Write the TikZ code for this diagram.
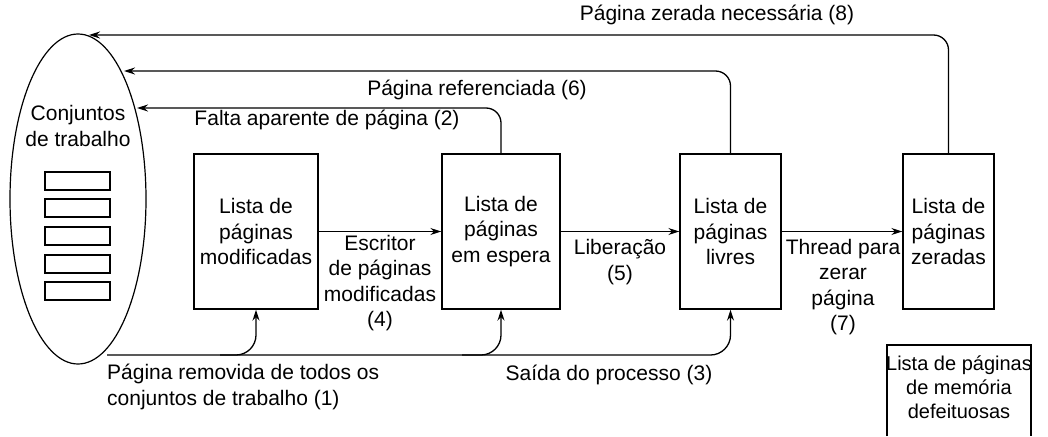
\documentclass[tikz,border=0pt]{standalone}
\usepackage{fontspec}
\setmainfont{Liberation Sans}
\usetikzlibrary{shapes.geometric,arrows.meta}
\begin{document}
\begin{tikzpicture}[x=1pt,y=-1pt,
  every node/.style={font=\fontsize{21}{25.5}\selectfont},
  box/.style={draw, line width=1.4pt, minimum height=155pt, align=center, inner sep=0pt},
  lbl/.style={align=center, inner sep=0pt},
  slot/.style={draw, line width=1.3pt, minimum width=65pt, minimum height=18pt, inner sep=0pt},
  arr/.style={-{Stealth[length=11pt,width=7pt]}, line width=1.3pt},
  plain/.style={line width=1.3pt}]
\useasboundingbox (0,0) rectangle (1048,436);

% working sets ellipse
\node[draw, ellipse, line width=1.2pt, minimum width=136pt, minimum height=330pt, inner sep=0pt] (e) at (78,199) {};
\node[lbl] (ct) at (78,126) {Conjuntos\\de trabalho};
\node[slot] (w1) at (77.5,181) {};
\node[slot] (w2) at (77.5,208) {};
\node[slot] (w3) at (77.5,236) {};
\node[slot] (w4) at (77.5,264) {};
\node[slot] (w5) at (77.5,291) {};

% lists
\node[box, minimum width=124pt] (b1) at (256,231.5) {Lista de\\páginas\\modificadas};
\node[box, minimum width=118pt] (b2) at (501,231.5) {Lista de\\páginas\\em espera};
\node[box, minimum width=101pt] (b3) at (730.5,231.5) {Lista de\\páginas\\livres};
\node[box, minimum width=91pt] (b4) at (948.5,231.5) {Lista de\\páginas\\zeradas};

% horizontal arrows
\draw[arr] (b1.east) -- (b2.west);
\draw[arr] (b2.east) -- (b3.west);
\draw[arr] (b3.east) -- (b4.west);
\node[lbl] (l4) at (380,283) {Escritor\\de páginas\\modificadas\\(4)};
\node[lbl] (l5) at (620,262) {Liberação\\(5)};
\node[lbl] (l7) at (843,287) {Thread para\\zerar\\página\\(7)};

% return arrows to working sets
\coordinate (t2) at (137,108);
\coordinate (t6) at (124,71);
\coordinate (t8) at (89,35);
\draw[arr, rounded corners=15pt] (b2.north) |- (t2);
\draw[arr, rounded corners=15pt] (b3.north) |- (t6);
\draw[arr, rounded corners=15pt] (b4.north) |- (t8);
\node[lbl] (l2) at (327,120) {Falta aparente de página (2)};
\node[lbl] (l6) at (477,90) {Página referenciada (6)};
\node[lbl] (l8) at (717,15) {Página zerada necessária (8)};

% bottom flow
\coordinate (s) at (107,355);
\coordinate (r1) at (220,355);
\coordinate (r2) at (462,355);
\draw[arr, rounded corners=20pt] (s) -| (b3.south);
\draw[arr, rounded corners=20pt] (r1) -| (b1.south);
\draw[arr, rounded corners=20pt] (r2) -| (b2.south);
\node[lbl, align=left, anchor=west] (l1) at (107,387) {Página removida de todos os\\conjuntos de trabalho (1)};
\node[lbl] (l3) at (609,375) {Saída do processo (3)};

% bad pages list (open at bottom)
\coordinate (d1) at (887,436);
\coordinate (d2) at (887,345);
\coordinate (d3) at (1031,345);
\coordinate (d4) at (1031,436);
\draw[plain] (d1) -- (d2) -- (d3) -- (d4);
\node[lbl, font=\fontsize{20}{24}\selectfont] (bb) at (959,387) {Lista de páginas\\de memória\\defeituosas};
\end{tikzpicture}
\end{document}
